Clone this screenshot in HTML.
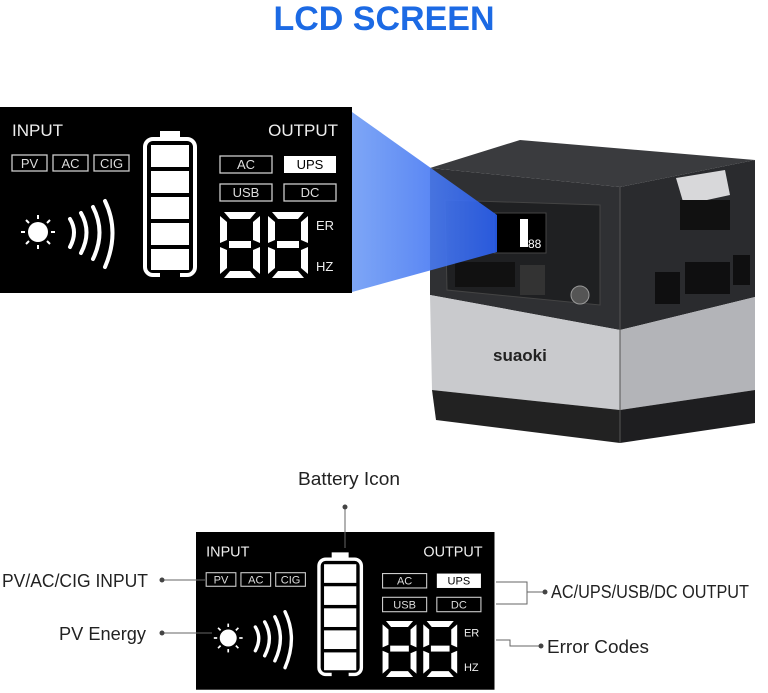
<!DOCTYPE html>
<html><head><meta charset="utf-8"><style>
html,body{margin:0;padding:0;background:#fff;}
svg{display:block;font-family:"Liberation Sans",sans-serif;}
</style></head><body>
<svg width="768" height="693" viewBox="0 0 768 693" xmlns="http://www.w3.org/2000/svg">
<defs>
<linearGradient id="beam" x1="0" y1="0" x2="1" y2="0">
  <stop offset="0" stop-color="#6f9cf5"/><stop offset="1" stop-color="#2a5ff0"/>
</linearGradient>
<g id="seg">
  <polygon points="4,0 36,0 30,7 10,7" />
  <polygon points="0,4 7,10 7,28 0,31" />
  <polygon points="40,4 40,31 33,28 33,10" />
  <rect x="9" y="29" width="22" height="7" />
  <polygon points="0,35 7,38 7,56 0,62" />
  <polygon points="40,35 40,62 33,56 33,38" />
  <polygon points="4,66 10,59 30,59 36,66" />
</g>
<g id="lcd">
  <rect x="0" y="0" width="352" height="186" fill="#000"/>
  <text x="12" y="29" font-size="17" fill="#eee">INPUT</text>
  <text x="338" y="29" font-size="17" fill="#eee" text-anchor="end">OUTPUT</text>
  <g fill="none" stroke="#ccc" stroke-width="1.3">
    <rect x="12" y="48" width="35" height="16"/>
    <rect x="53" y="48" width="35" height="16"/>
    <rect x="94" y="48" width="35" height="16"/>
    <rect x="220" y="49" width="52" height="17"/>
    <rect x="220" y="77" width="52" height="17"/>
    <rect x="284" y="77" width="52" height="17"/>
  </g>
  <rect x="284" y="49" width="52" height="17" fill="#fff"/>
  <g font-size="13" fill="#ddd" text-anchor="middle">
    <text x="29.5" y="61">PV</text><text x="70.5" y="61">AC</text><text x="111.5" y="61">CIG</text>
    <text x="246" y="62">AC</text><text x="246" y="90">USB</text><text x="310" y="90">DC</text>
  </g>
  <text x="310" y="62" font-size="13" fill="#000" text-anchor="middle">UPS</text>
  <path d="M160,30 L160,24 L180,24 L180,30" fill="#fff"/>
  <rect x="145" y="32" width="50" height="136" rx="8" fill="none" stroke="#fff" stroke-width="4"/>
  <rect x="160" y="164" width="20" height="8" fill="#000"/>
  <g fill="#fff">
    <rect x="151" y="38" width="38" height="22"/>
    <rect x="151" y="64" width="38" height="22"/>
    <rect x="151" y="90" width="38" height="22"/>
    <rect x="151" y="116" width="38" height="22"/>
    <rect x="151" y="142" width="38" height="21"/>
  </g>
  <circle cx="38" cy="125" r="10" fill="#fff"/>
  <g stroke="#fff" stroke-width="2">
    <line x1="38" y1="108" x2="38" y2="112"/><line x1="38" y1="138" x2="38" y2="142"/>
    <line x1="21" y1="125" x2="25" y2="125"/><line x1="51" y1="125" x2="55" y2="125"/>
    <line x1="26" y1="113" x2="29" y2="116"/><line x1="47" y1="134" x2="50" y2="137"/>
    <line x1="26" y1="137" x2="29" y2="134"/><line x1="47" y1="116" x2="50" y2="113"/>
  </g>
  <g fill="none" stroke="#fff" stroke-width="4" stroke-linecap="round">
    <path d="M70,112 Q78,125 70,140"/>
    <path d="M81,106 Q92,125 81,146"/>
    <path d="M93,100 Q106,125 93,152"/>
    <path d="M105,94 Q120,125 105,160"/>
  </g>
  <g fill="#fff">
    <use href="#seg" transform="translate(220,105)"/>
    <use href="#seg" transform="translate(268,105)"/>
  </g>
  <text x="316" y="123" font-size="13" fill="#eee">ER</text>
  <text x="316" y="164" font-size="13" fill="#eee">HZ</text>
</g>
</defs>

<text x="384" y="30" font-size="34" font-weight="bold" fill="#1c6ae4" text-anchor="middle">LCD SCREEN</text>

<polygon points="430,168 520,140 755,160 620,187" fill="#3a3b3e"/>
<polygon points="430,168 620,187 620,330 430,295" fill="#2f3033"/>
<polygon points="620,187 755,160 755,297 620,330" fill="#2a2b2e"/>
<polygon points="430,295 620,330 620,410 432,390" fill="#c9cacd"/>
<polygon points="620,330 755,297 755,390 620,410" fill="#b3b4b8"/>
<polygon points="432,390 620,410 620,443 436,420" fill="#222"/>
<polygon points="620,410 755,390 755,423 620,443" fill="#1e1e20"/>
<line x1="620" y1="187" x2="620" y2="443" stroke="#555" stroke-width="1"/>
<polygon points="445,200 600,205 600,305 447,290" fill="#1f2022" stroke="#444"/>
<polygon points="676,178 725,170 730,195 684,205" fill="#d8d8da"/>
<rect x="680" y="200" width="50" height="30" fill="#111"/>
<g fill="#0f0f10">
  <rect x="655" y="272" width="25" height="32"/><rect x="685" y="262" width="45" height="32"/><rect x="733" y="255" width="17" height="30"/>
</g>
<rect x="455" y="262" width="60" height="25" fill="#111"/>
<rect x="520" y="265" width="25" height="30" fill="#333"/>
<circle cx="580" cy="295" r="9" fill="#555" stroke="#999"/>
<text x="493" y="361" font-size="17" font-weight="bold" fill="#222">suaoki</text>
<rect x="494" y="213" width="52" height="40" fill="#000" stroke="#444"/>
<g fill="#fff"><rect x="520" y="219" width="8" height="28"/><text x="528" y="248" font-size="12">88</text></g>

<polygon points="352,112 497,215 497,252 352,292" fill="url(#beam)" opacity="0.9"/>

<use href="#lcd" transform="translate(0,107)"/>
<use href="#lcd" transform="translate(196,532) scale(0.848)"/>

<g fill="#222" font-size="18">
  <text x="349" y="485" text-anchor="middle" textLength="102" lengthAdjust="spacingAndGlyphs">Battery Icon</text>
  <text x="2" y="587" textLength="146" lengthAdjust="spacingAndGlyphs">PV/AC/CIG INPUT</text>
  <text x="59" y="640" textLength="87" lengthAdjust="spacingAndGlyphs">PV Energy</text>
  <text x="551" y="598" textLength="198" lengthAdjust="spacingAndGlyphs">AC/UPS/USB/DC OUTPUT</text>
  <text x="547" y="653" textLength="102" lengthAdjust="spacingAndGlyphs">Error Codes</text>
</g>
<g stroke="#666" stroke-width="1" fill="none">
  <line x1="345" y1="507" x2="345" y2="548"/>
  <line x1="163" y1="580" x2="205" y2="580"/>
  <line x1="162" y1="633" x2="212" y2="633"/>
  <polyline points="496,582 527,582 527,604 496,604"/>
  <line x1="527" y1="592" x2="545" y2="592"/>
  <polyline points="496,640 510,640 510,646 540,646"/>
</g>
<g fill="#444">
  <circle cx="345" cy="507" r="2.5"/><circle cx="162" cy="580" r="2.5"/><circle cx="162" cy="633" r="2.5"/>
  <circle cx="545" cy="592" r="2.5"/><circle cx="541" cy="646" r="2.5"/>
</g>
</svg>
</body></html>
